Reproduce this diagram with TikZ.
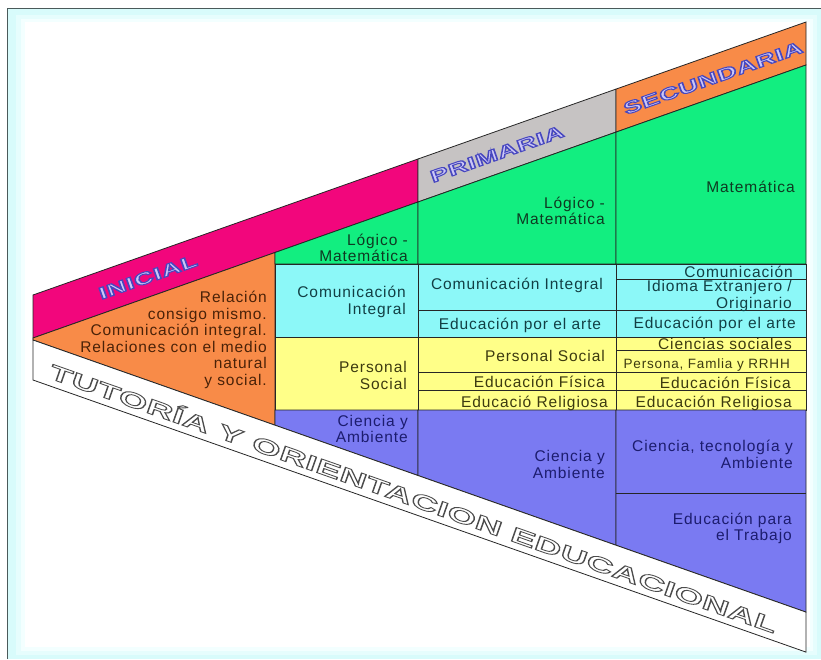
\documentclass[tikz,border=0pt]{standalone}
\usepackage{fontspec}
\setmainfont{Liberation Sans}
\newfontfamily\cellfont[LetterSpace=6]{Liberation Sans}
\newfontfamily\headout[LetterSpace=3,BoldFeatures={FakeBold=6}]{Liberation Sans}
\newfontfamily\tutout[LetterSpace=2,BoldFeatures={FakeBold=4}]{Liberation Sans}
\definecolor{magentaband}{HTML}{F2067C}
\definecolor{grayband}{HTML}{C6C3C3}
\definecolor{orangefill}{HTML}{F88B48}
\definecolor{greenfill}{HTML}{12EE80}
\definecolor{cyanfill}{HTML}{8CF8F8}
\definecolor{yellowfill}{HTML}{FFFF88}
\definecolor{purplefill}{HTML}{7A7AF2}
\definecolor{edgecol}{HTML}{262626}
\definecolor{framegray}{HTML}{4A5A5A}
\definecolor{cyanA}{HTML}{D8FBFB}
\definecolor{cyanB}{HTML}{E6FDFD}
\definecolor{cyanC}{HTML}{F3FFFF}
\definecolor{otext}{HTML}{4A2208}
\definecolor{gtext}{HTML}{0E3A22}
\definecolor{ctext}{HTML}{123F44}
\definecolor{ytext}{HTML}{3C3A10}
\definecolor{ptext}{HTML}{1C1C6E}
% outlined text: fill colour first, stroke colour second (xdvipdfmx colour special)
\newcommand{\twocolor}[3]{\special{pdf:bcolor [#1] [#2]}#3\special{pdf:ecolor}}
\newcommand{\headlabel}[1]{\scalebox{1.6}[1]{\headout\bfseries\fontsize{17}{17}\selectfont\twocolor{0.80 0.78 0.97}{0.28 0.28 0.75}{#1}}}
\newcommand{\tutlabel}[1]{\scalebox{1.76}[1]{\tutout\bfseries\fontsize{21}{21}\selectfont\twocolor{1 1 1}{0.30 0.30 0.30}{#1}}}
\begin{document}
\begin{tikzpicture}[x=1pt,y=-1pt,
  cell/.style={font=\cellfont\fontsize{15.5}{16.5}\selectfont, inner sep=0pt, align=right},
  small/.style={font=\cellfont\fontsize{13.5}{15}\selectfont},
  ot/.style={cell,text=otext},
  gt/.style={cell,text=gtext},
  ct/.style={cell,text=ctext},
  yt/.style={cell,text=ytext},
  pt/.style={cell,text=ptext},
  edge/.style={draw=edgecol, line width=0.8pt},
  head/.style={rotate=19.45, inner sep=0pt},
]
\useasboundingbox (0,0) rectangle (821,659);
% frame
\fill[white] (0,0) rectangle (821,659);
\fill[cyanA] (7,8) rectangle (821,659);
\fill[cyanB] (16,15) rectangle (817,655);
\fill[cyanC] (21,19) rectangle (813,651);
\fill[white] (25,22) rectangle (810,647);
\draw[framegray, line width=1pt] (7.5,659) -- (7.5,8.5) -- (821,8.5);

% header bands
\filldraw[edge, fill=magentaband] (33,295) -- (418,159) -- (418,202) -- (33,338) -- cycle;
\filldraw[edge, fill=grayband] (418,159) -- (616,89.1) -- (616,132.1) -- (418,202) -- cycle;
\filldraw[edge, fill=orangefill] (616,89.1) -- (806,22) -- (806,65) -- (616,132.1) -- cycle;

% inicial region
\filldraw[edge, fill=orangefill] (33,338) -- (275,252.5) -- (275,425.2) -- (33,340) -- cycle;

% column 1
\filldraw[edge, fill=greenfill] (275,252.5) -- (418,202) -- (418,264) -- (275,264) -- cycle;
\filldraw[edge, fill=cyanfill] (275,264) rectangle (418,337);
\filldraw[edge, fill=yellowfill] (275,337) rectangle (418,410);
\filldraw[edge, fill=purplefill] (275,410) -- (418,410) -- (418,475.5) -- (275,425.2) -- cycle;

% column 2
\filldraw[edge, fill=greenfill] (418,202) -- (616,132.1) -- (616,264) -- (418,264) -- cycle;
\filldraw[edge, fill=cyanfill] (418,264) rectangle (616,337);
\draw[edge] (418,310) -- (616,310);
\filldraw[edge, fill=yellowfill] (418,337) rectangle (616,410);
\draw[edge] (418,372) -- (616,372);
\draw[edge] (418,390) -- (616,390);
\filldraw[edge, fill=purplefill] (418,410) -- (616,410) -- (616,545.2) -- (418,475.5) -- cycle;

% column 3
\filldraw[edge, fill=greenfill] (616,132.1) -- (806,65) -- (806,264) -- (616,264) -- cycle;
\filldraw[edge, fill=cyanfill] (616,264) rectangle (806,337);
\draw[edge] (616,279) -- (806,279);
\draw[edge] (616,310) -- (806,310);
\filldraw[edge, fill=yellowfill] (616,337) rectangle (806,410);
\draw[edge] (616,350) -- (806,350);
\draw[edge] (616,372) -- (806,372);
\draw[edge] (616,390) -- (806,390);
\filldraw[edge, fill=purplefill] (616,410) -- (806,410) -- (806,612.1) -- (616,545.2) -- cycle;
\draw[edge] (616,493) -- (806,493);

% tutoria band
\filldraw[edge, fill=white] (33,340) -- (806,612.1) -- (806,652.1) -- (33,380) -- cycle;

% header labels
\node[head] (ini) at (148,277) {\headlabel{INICIAL}};
\node[head] (pri) at (497,154) {\headlabel{PRIMARIA}};
\node[head] (sec) at (713,78) {\headlabel{SECUNDARIA}};
\node[rotate=-19.4, inner sep=0pt] (tut) at (414,497) {\tutlabel{TUTORÍA Y ORIENTACION EDUCACIONAL}};

% inicial text
\node[ot, anchor=east] (i1) at (267,340) {Relación\\consigo mismo.\\Comunicación integral.\\Relaciones con el medio\\natural\\y social.};

% column 1 texts
\node[gt, anchor=east] (a1) at (408,248) {Lógico -\\Matemática};
\node[ct, anchor=east] (a2) at (406,302) {Comunicación\\Integral};
\node[yt, anchor=east] (a3) at (407,375.5) {Personal\\Social};
\node[pt, anchor=east] (a4) at (408,429) {Ciencia y\\Ambiente};

% column 2 texts
\node[gt, anchor=east] (b1) at (605,211) {Lógico -\\Matemática};
\node[ct, anchor=mid] (b2) at (517,287) {Comunicación Integral};
\node[ct, anchor=mid] (b3) at (520,327) {Educación por el arte};
\node[yt, anchor=mid east] (b4) at (605,359) {Personal Social};
\node[yt, anchor=mid east] (b5) at (605,385) {Educación Física};
\node[yt, anchor=mid east] (b6) at (608,405) {Educació Religiosa};
\node[pt, anchor=east] (b7) at (605,464.5) {Ciencia y\\Ambiente};

% column 3 texts
\node[gt, anchor=mid east] (c1) at (795,190) {Matemática};
\node[ct, anchor=mid east] (c2) at (793,275) {Comunicación};
\node[ct, anchor=east] (c3) at (792,296) {Idioma Extranjero /\\Originario};
\node[ct, anchor=mid east] (c4) at (796,326) {Educación por el arte};
\node[yt, anchor=mid east] (c5) at (792,347) {Ciencias sociales};
\node[yt, small, anchor=mid east] (c6) at (790,366) {Persona, Famlia y RRHH};
\node[yt, anchor=mid east] (c7) at (791,386) {Educación Física};
\node[yt, anchor=mid east] (c8) at (792,405) {Educación Religiosa};
\node[pt, anchor=east] (c9) at (793,454.5) {Ciencia, tecnología y\\Ambiente};
\node[pt, anchor=east] (c10) at (792,528.5) {Educación para\\el Trabajo};
\end{tikzpicture}
\end{document}
